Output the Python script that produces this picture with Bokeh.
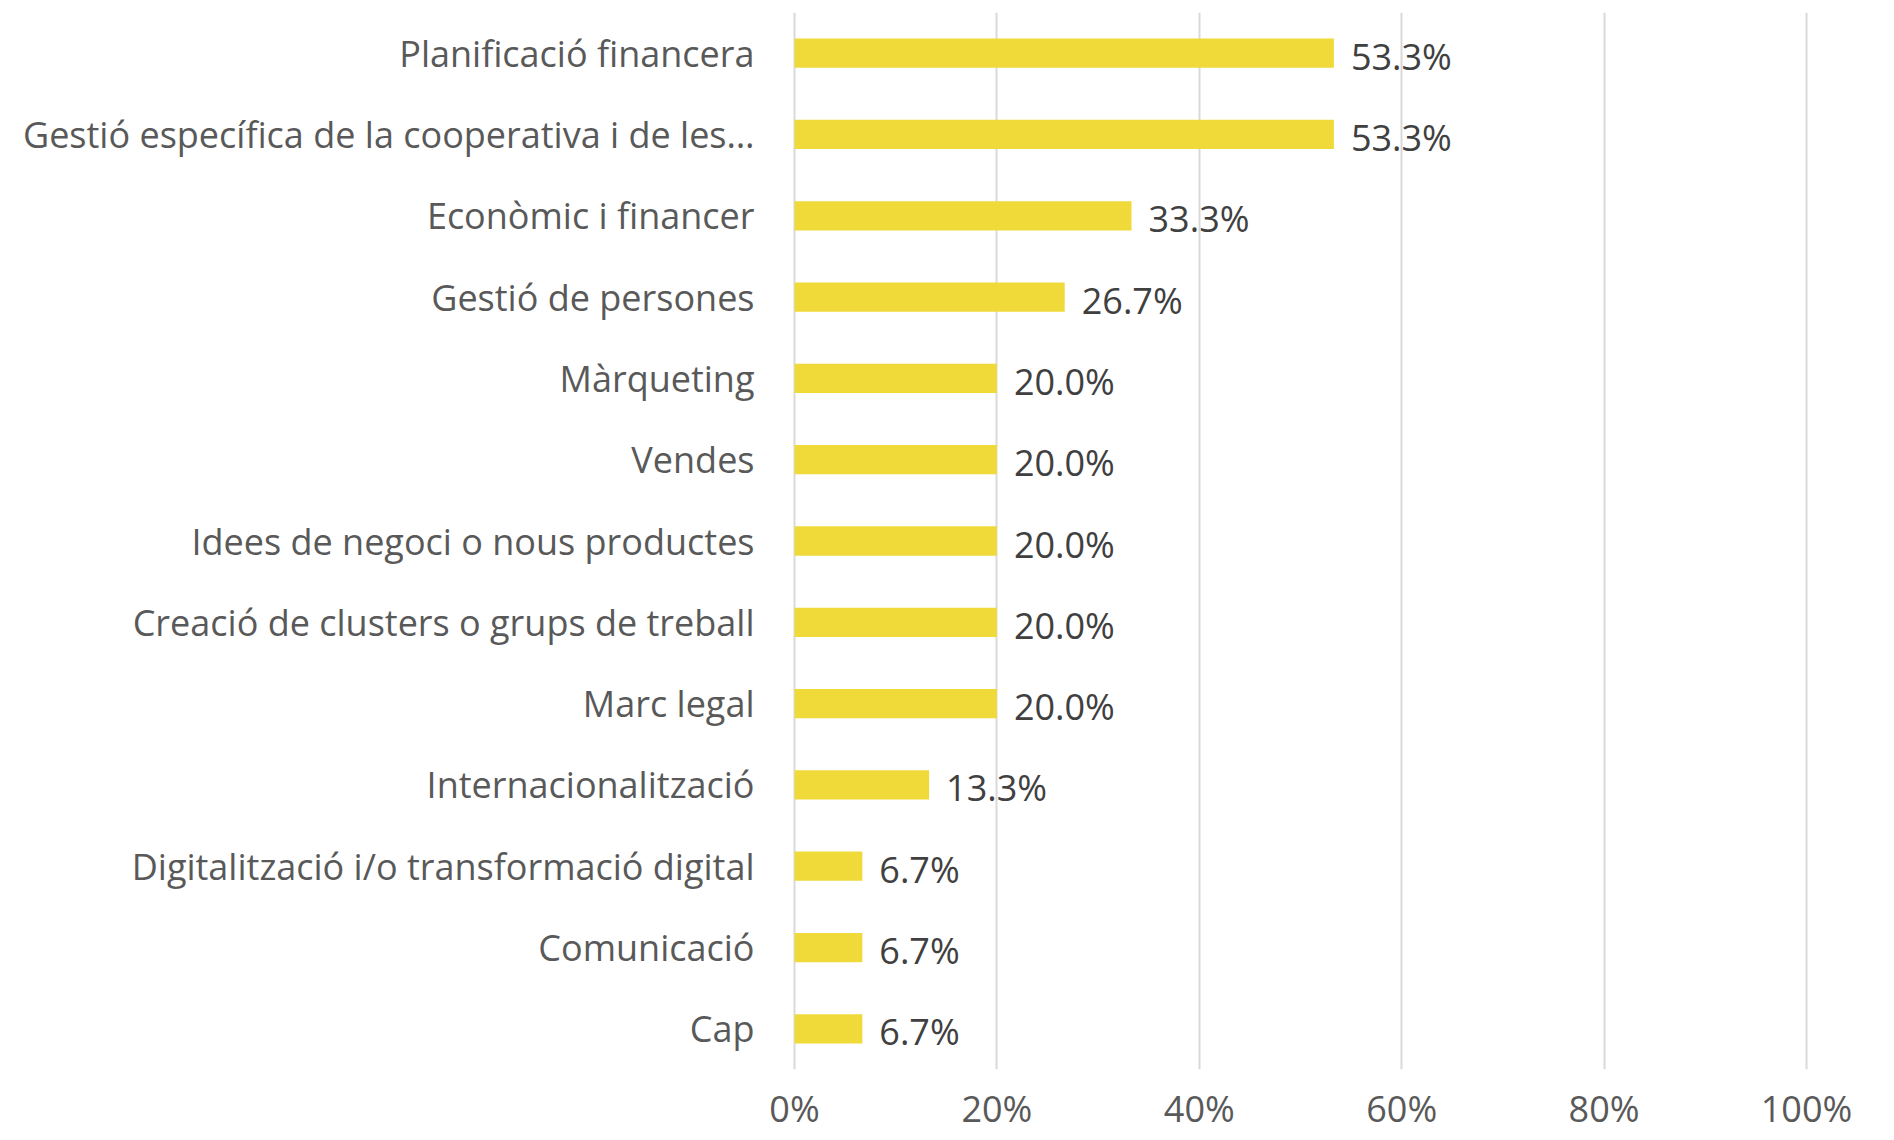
from bokeh.plotting import figure
from bokeh.models import FactorRange, Range1d, FixedTicker, PrintfTickFormatter, ColumnDataSource
from bokeh.core.properties import value
from bokeh.embed import file_html
from bokeh.resources import INLINE

categories = [
    "Planificació financera",
    "Gestió específica de la cooperativa i de les…",
    "Econòmic i financer",
    "Gestió de persones",
    "Màrqueting",
    "Vendes",
    "Idees de negoci o nous productes",
    "Creació de clusters o grups de treball",
    "Marc legal",
    "Internacionalització",
    "Digitalització i/o transformació digital",
    "Comunicació",
    "Cap",
]
values = [53.3, 53.3, 33.3, 26.7, 20.0, 20.0, 20.0, 20.0, 20.0, 13.3, 6.7, 6.7, 6.7]
ticks = [0, 20, 40, 60, 80, 100]

labels = [f"{v:.1f}%" for v in values]
src = ColumnDataSource(dict(cat=categories, val=values, lab=labels))

FONT = "Open Sans"
FS = "36px"

p = figure(
    width=1894, height=1140,
    y_range=FactorRange(*list(reversed(categories)), range_padding=0),
    x_range=Range1d(-0.2, 100.2),
    output_backend="svg", toolbar_location=None,
    min_border_left=792, min_border_right=86, min_border_top=12, min_border_bottom=71,
)
p.outline_line_color = None
p.hbar(y="cat", right="val", left=0, height=0.36, source=src,
       fill_color="#F0DA3A", line_color=None)
p.text(x="val", y="cat", text="lab", source=src, x_offset=17, y_offset=3,
       text_baseline="middle", text_align="left",
       text_font=value(FONT), text_font_size=FS, text_color="#404040")

p.xaxis.ticker = FixedTicker(ticks=ticks)
p.xaxis.formatter = PrintfTickFormatter(format="%d%%")
p.xaxis.axis_line_color = None
p.xaxis.major_tick_line_color = None
p.xaxis.minor_tick_line_color = None
p.xaxis.major_tick_out = 0
p.xaxis.major_tick_in = 0
p.xaxis.major_label_standoff = 14
p.xaxis.major_label_text_font = FONT
p.xaxis.major_label_text_font_size = FS
p.xaxis.major_label_text_color = "#595959"

p.yaxis.axis_line_color = None
p.yaxis.major_tick_line_color = None
p.yaxis.minor_tick_line_color = None
p.yaxis.major_label_standoff = 32
p.yaxis.major_label_text_font = FONT
p.yaxis.major_label_text_font_size = FS
p.yaxis.major_label_text_color = "#595959"

p.ygrid.grid_line_color = None
p.xgrid.grid_line_color = "#D9D9D9"
p.xgrid.grid_line_width = 2

open("out.html", "w").write(file_html(p, INLINE))
